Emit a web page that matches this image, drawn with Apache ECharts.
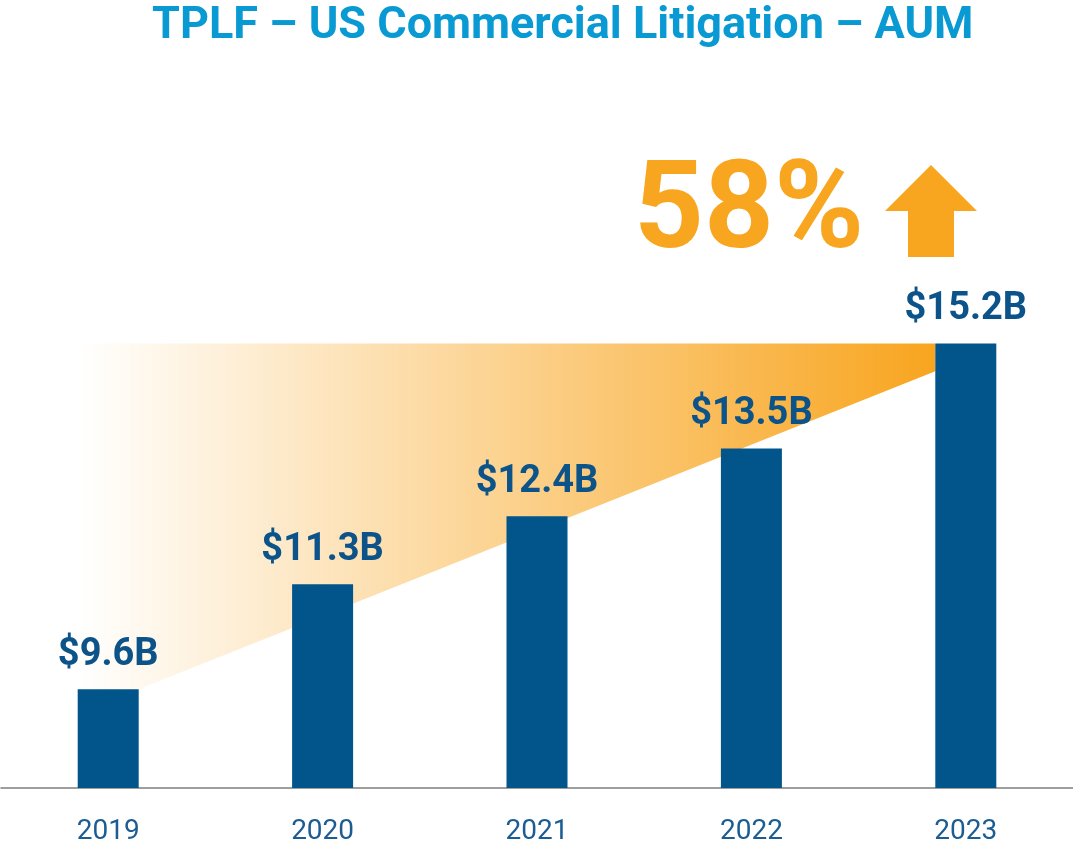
<!DOCTYPE html>
<html>
<head>
<meta charset="utf-8">
<script src="https://cdn.jsdelivr.net/npm/echarts@6/dist/echarts.min.js"></script>
<style>
  html, body { margin: 0; padding: 0; background: #fff; }
  #chart { width: 1073px; height: 847px; }
</style>
</head>
<body>
<div id="chart"></div>
<script>
// data
const years = ['2019', '2020', '2021', '2022', '2023'];
const aum = [9.6, 11.3, 12.4, 13.5, 15.2];
const growthText = '58%';
// where the wedge's lower edge meets the 2023 bar
const wedgeEnd = 14.75;

const barBlue = '#02558B';
const orange = '#F8A51F';
const barW = 61;

const chart = echarts.init(document.getElementById('chart'));

chart.setOption({
  animation: false,
  title: {
    text: 'TPLF – US Commercial Litigation – AUM',
    left: 147,
    top: -1,
    textStyle: {
      fontFamily: 'Roboto',
      fontWeight: 'bold',
      fontSize: 45,
      color: '#0A9AD3'
    }
  },
  grid: { left: 1, right: -3, top: 294, bottom: 59 },
  xAxis: {
    type: 'category',
    data: years,
    axisTick: { show: false },
    axisLine: { lineStyle: { color: '#7f7f7f', width: 1.5 } },
    axisLabel: {
      margin: 30,
      fontFamily: 'Roboto',
      fontSize: 28,
      color: '#1B5C93'
    }
  },
  yAxis: {
    type: 'value',
    min: 8,
    max: 16,
    show: false,
    splitLine: { show: false }
  },
  series: [
    {
      // orange wedge behind the bars
      type: 'custom',
      z: 1,
      silent: true,
      data: [[0, aum[0]]],
      renderItem: function (params, api) {
        const first = api.coord([0, aum[0]]);
        const last = api.coord([years.length - 1, aum[aum.length - 1]]);
        const low = api.coord([years.length - 1, wedgeEnd]);
        const h = barW / 2;
        return {
          type: 'polygon',
          shape: {
            points: [
              [first[0] - h, last[1]],
              [last[0] - h, last[1]],
              [last[0] - h, low[1]],
              [first[0] + h, first[1]],
              [first[0] - h, first[1]]
            ]
          },
          style: {
            fill: new echarts.graphic.LinearGradient(0, 0, 1, 0, [
              { offset: 0, color: 'rgba(248,165,31,0)' },
              { offset: 1, color: orange }
            ])
          }
        };
      }
    },
    {
      type: 'bar',
      z: 2,
      data: aum,
      barWidth: barW,
      itemStyle: { color: barBlue },
      label: {
        show: true,
        position: 'top',
        distance: 15,
        formatter: function (p) { return '$' + p.value + 'B'; },
        fontFamily: 'Roboto',
        fontWeight: 'bold',
        fontSize: 38,
        color: '#0B5389'
      }
    }
  ],
  graphic: [
    {
      type: 'text',
      left: 634,
      top: 155,
      style: {
        text: growthText,
        fontFamily: 'Roboto',
        fontWeight: 'bold',
        fontSize: 122,
        fill: orange
      }
    },
    {
      type: 'polygon',
      shape: {
        points: [[931, 165], [977, 211], [954, 211], [954, 257], [908, 257], [908, 211], [885, 211]]
      },
      style: { fill: orange }
    }
  ]
});
</script>
</body>
</html>
